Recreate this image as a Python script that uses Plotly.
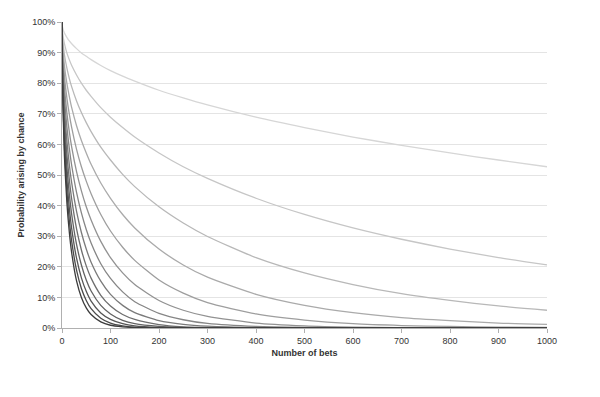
import plotly.graph_objects as go

# Number of bets at which each curve was read
bets = [0, 1, 5, 10, 15, 20, 30, 40, 50, 60, 80, 100, 125, 150, 200, 250, 300,
        400, 500, 600, 700, 800, 900, 1000]

# Probability arising by chance (%) for each curve (lightest -> darkest)
curve_01 = [100, 98.4, 96.4, 95.0, 93.8, 92.9, 91.3, 89.9, 88.8, 87.7, 85.8, 84.1, 82.3, 80.7, 77.7, 75.2, 72.9, 68.9, 65.5, 62.4, 59.7, 57.2, 54.9, 52.7]
curve_02 = [100, 96.8, 92.9, 89.9, 87.7, 85.8, 82.7, 80.0, 77.7, 75.7, 72.0, 68.9, 65.5, 62.4, 57.2, 52.7, 48.9, 42.4, 37.1, 32.7, 29.0, 25.8, 23.0, 20.6]
curve_03 = [100, 95.2, 89.3, 85.0, 81.6, 78.8, 74.2, 70.4, 67.1, 64.2, 59.1, 54.9, 50.2, 46.2, 39.6, 34.3, 29.9, 23.0, 18.0, 14.2, 11.2, 9.0, 7.2, 5.8]
curve_04 = [100, 93.6, 85.8, 80.0, 75.7, 72.0, 66.1, 61.3, 57.2, 53.5, 47.4, 42.4, 37.1, 32.7, 25.8, 20.6, 16.6, 11.0, 7.4, 5.0, 3.4, 2.4, 1.6, 1.2]
curve_05 = [100, 92.0, 82.3, 75.2, 69.9, 65.5, 58.4, 52.7, 48.0, 43.9, 37.1, 31.7, 26.4, 22.1, 15.7, 11.4, 8.3, 4.6, 2.6, 1.4, 0.8, 0.5, 0.27, 0.16]
curve_06 = [100, 90.4, 78.8, 70.4, 64.2, 59.1, 51.1, 44.8, 39.6, 35.3, 28.3, 23.0, 18.0, 14.2, 9.0, 5.8, 3.8, 1.6, 0.7, 0.3, 0.15, 0.07, 0.03, 0.0]
curve_07 = [100, 88.9, 75.4, 65.8, 58.8, 53.1, 44.3, 37.6, 32.2, 27.8, 21.0, 16.2, 11.8, 8.6, 4.8, 2.7, 1.5, 0.5, 0.17, 0.06, 0.02, 0.0, 0.0, 0.0]
curve_08 = [100, 87.3, 72.0, 61.3, 53.5, 47.4, 38.1, 31.2, 25.8, 21.5, 15.3, 11.0, 7.4, 5.0, 2.4, 1.2, 0.6, 0.14, 0.03, 0.0, 0.0, 0.0, 0.0, 0.0]
curve_09 = [100, 85.7, 68.7, 56.9, 48.6, 42.1, 32.4, 25.5, 20.3, 16.3, 10.7, 7.2, 4.4, 2.8, 1.1, 0.4, 0.18, 0.03, 0.0, 0.0, 0.0, 0.0, 0.0, 0.0]
curve_10 = [100, 84.1, 65.5, 52.7, 43.9, 37.1, 27.3, 20.6, 15.7, 12.1, 7.4, 4.6, 2.5, 1.4, 0.5, 0.16, 0.05, 0.0, 0.0, 0.0, 0.0, 0.0, 0.0, 0.0]
curve_11 = [100, 82.6, 62.3, 48.7, 39.4, 32.5, 22.8, 16.4, 12.0, 8.8, 4.9, 2.8, 1.4, 0.7, 0.19, 0.05, 0.0, 0.0, 0.0, 0.0, 0.0, 0.0, 0.0, 0.0]
curve_12 = [100, 81.0, 59.1, 44.8, 35.3, 28.3, 18.9, 12.9, 9.0, 6.3, 3.2, 1.6, 0.7, 0.3, 0.07, 0.0, 0.0, 0.0, 0.0, 0.0, 0.0, 0.0, 0.0, 0.0]
curve_13 = [100, 79.5, 56.1, 41.1, 31.4, 24.5, 15.4, 10.0, 6.6, 4.4, 2.0, 0.9, 0.4, 0.15, 0.02, 0.0, 0.0, 0.0, 0.0, 0.0, 0.0, 0.0, 0.0, 0.0]

curves = [curve_01, curve_02, curve_03, curve_04, curve_05, curve_06, curve_07,
          curve_08, curve_09, curve_10, curve_11, curve_12, curve_13]

colors = ["#d6d6d6", "#c6c6c6", "#b8b8b8", "#aaaaaa", "#9e9e9e", "#929292", "#868686",
          "#7a7a7a", "#6e6e6e", "#626262", "#565656", "#4a4a4a", "#3c3c3c"]

y_ticks = [0, 10, 20, 30, 40, 50, 60, 70, 80, 90, 100]
y_tick_labels = [f"{v}%" for v in y_ticks]
x_ticks = [0, 100, 200, 300, 400, 500, 600, 700, 800, 900, 1000]

fig = go.Figure()
for vals, col in zip(curves, colors):
    fig.add_trace(go.Scatter(
        x=bets, y=vals, mode="lines",
        line=dict(color=col, width=1.3, shape="spline", smoothing=0.6),
        showlegend=False, hoverinfo="skip"))

font = dict(family="Liberation Sans, Arial, sans-serif", size=9, color="#333333")

fig.update_layout(
    width=600, height=397,
    margin=dict(l=54, r=61, t=14, b=77),
    paper_bgcolor="white", plot_bgcolor="white",
    font=font,
    xaxis=dict(
        range=[0, 1000], tickvals=x_ticks, ticks="outside", ticklen=4,
        tickcolor="#b0b0b0", showline=True, linecolor="#b0b0b0", linewidth=1,
        showgrid=False, zeroline=False, tickfont=font, automargin=False,
        title=dict(text="<b>Number of bets</b>", font=font, standoff=4)),
    yaxis=dict(
        range=[0, 100], tickvals=y_ticks, ticktext=y_tick_labels, ticks="outside",
        ticklen=4, tickcolor="#b0b0b0", showline=True, linecolor="#b0b0b0",
        linewidth=1, showgrid=True, gridcolor="#e4e4e4", gridwidth=1,
        zeroline=False, tickfont=font, automargin=False,
        title=dict(text="<b>Probability arising by chance</b>", font=font, standoff=6)),
)

fig.write_html("out.html")
